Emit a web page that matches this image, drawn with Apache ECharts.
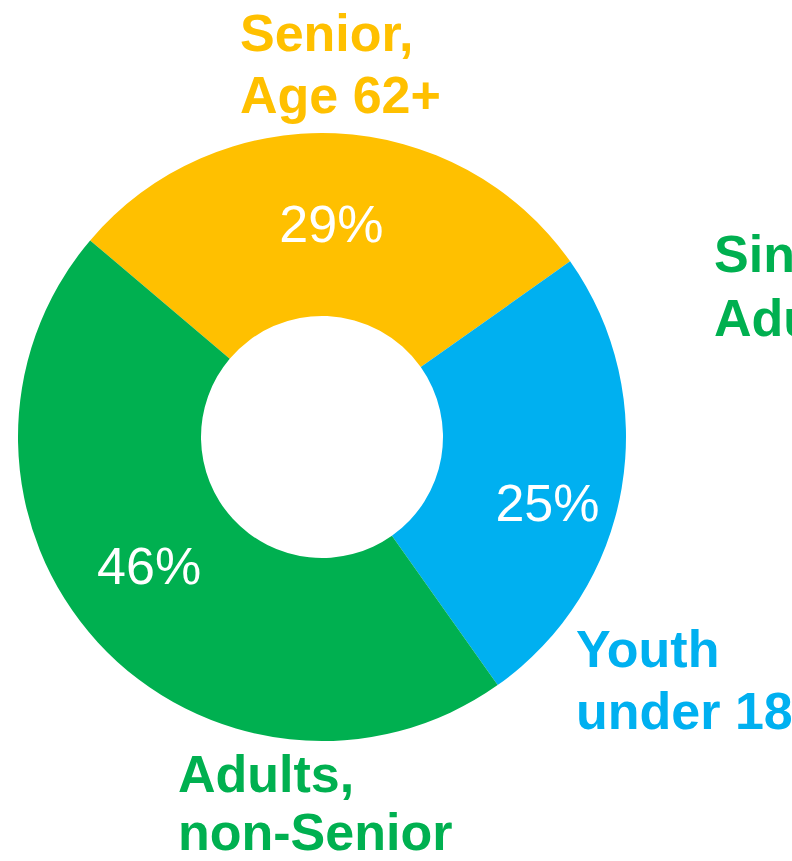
<!DOCTYPE html>
<html>
<head>
<meta charset="utf-8">
<style>
html,body{margin:0;padding:0;background:#fff;}
#chart{width:792px;height:861px;}
</style>
<script src="https://cdn.jsdelivr.net/npm/echarts@6/dist/echarts.min.js"></script>
</head>
<body>
<div id="chart"></div>
<script>
// Data
const categories = ['Senior, Age 62+', 'Youth under 18', 'Adults, non-Senior'];
const values = [29, 25, 46];
const colors = ['#FFC000', '#00B0F0', '#00B050'];
const outerLabels = ['Senior,\nAge 62+', 'Youth\nunder 18', 'Adults,\nnon-Senior'];
const extraLabel = 'Single\nAdults';
const extraColor = '#00B050';

const chart = echarts.init(document.getElementById('chart'), null, {renderer: 'svg'});

const labelOffsets = [[0, 2], [13, 30], [-14, -17]];
const outerPos = [[240, 2], [576, 618], [178, 745]];
const outerLineHeights = [62, 62, 58];

const font = '"Liberation Sans", Arial, Helvetica, sans-serif';

const graphics = outerLabels.map((t, i) => ({
  type: 'text',
  left: outerPos[i][0],
  top: outerPos[i][1],
  style: {
    text: t,
    fill: colors[i],
    font: 'bold 52px ' + font,
    lineHeight: outerLineHeights[i]
  }
}));
graphics.push({
  type: 'text',
  left: 714,
  top: 222,
  style: {
    text: extraLabel,
    fill: extraColor,
    font: 'bold 52px ' + font,
    lineHeight: 64
  }
});

chart.setOption({
  animation: false,
  backgroundColor: '#ffffff',
  graphic: graphics,
  series: [{
    type: 'pie',
    center: [322, 437],
    radius: [121, 304],
    startAngle: 139.7,
    clockwise: true,
    avoidLabelOverlap: false,
    labelLine: {show: false},
    itemStyle: {borderWidth: 0},
    emphasis: {disabled: true},
    label: {
      show: true,
      position: 'inside',
      formatter: '{d}%',
      color: '#ffffff',
      fontFamily: font,
      fontSize: 52,
      fontWeight: 'normal'
    },
    data: categories.map((c, i) => ({
      name: c,
      value: values[i],
      itemStyle: {color: colors[i]},
      label: {offset: labelOffsets[i]}
    }))
  }]
});
</script>
</body>
</html>
